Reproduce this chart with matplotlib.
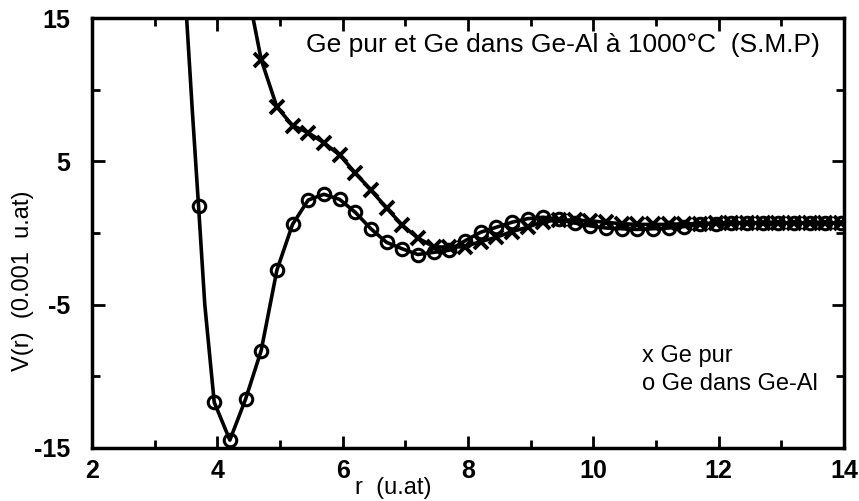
import matplotlib.pyplot as plt
from matplotlib.ticker import MultipleLocator

plt.rcParams['font.family'] = ['Liberation Sans', 'DejaVu Sans']
plt.rcParams['axes.unicode_minus'] = False

# Ge pur (croix)
r_pur = [4.7, 4.95, 5.2, 5.45, 5.7, 5.95, 6.2, 6.45, 6.7, 6.95, 7.2, 7.45,
         7.7, 7.95, 8.2, 8.45, 8.7, 8.95, 9.2, 9.45, 9.7, 9.95, 10.2, 10.45,
         10.7, 10.95, 11.2, 11.45, 11.7, 11.95, 12.2, 12.45, 12.7, 12.95,
         13.2, 13.45, 13.7, 13.95]
v_pur = [12.1, 8.8, 7.5, 7.0, 6.3, 5.45, 4.2, 3.0, 1.75, 0.55, -0.35, -0.95,
         -1.0, -0.95, -0.6, -0.3, 0.1, 0.4, 0.8, 0.9, 0.9, 0.85, 0.75, 0.65,
         0.6, 0.6, 0.6, 0.65, 0.65, 0.7, 0.7, 0.7, 0.7, 0.7,
         0.7, 0.7, 0.7, 0.7]

# Ge dans Ge-Al (cercles)
r_al = [3.7, 3.95, 4.2, 4.45, 4.7, 4.95, 5.2, 5.45, 5.7, 5.95, 6.2, 6.45,
        6.7, 6.95, 7.2, 7.45, 7.7, 7.95, 8.2, 8.45, 8.7, 8.95, 9.2, 9.45,
        9.7, 9.95, 10.2, 10.45, 10.7, 10.95, 11.2, 11.45, 11.7, 11.95, 12.2,
        12.45, 12.7, 12.95, 13.2, 13.45, 13.7, 13.95]
v_al = [1.9, -11.8, -14.45, -11.6, -8.2, -2.6, 0.6, 2.3, 2.7, 2.35, 1.45, 0.3,
        -0.65, -1.1, -1.5, -1.35, -1.2, -0.55, 0.05, 0.4, 0.75, 1.0, 1.1, 0.95,
        0.7, 0.5, 0.35, 0.3, 0.25, 0.3, 0.35, 0.45, 0.6, 0.65, 0.7,
        0.7, 0.7, 0.7, 0.7, 0.7, 0.7, 0.7]

r_line_pur = [4.57] + r_pur + [14.0]
v_line_pur = [15.0] + v_pur + [0.7]
r_line_al = [3.51, 3.6, 3.7, 3.8] + r_al[1:] + [14.0]
v_line_al = [15.0, 8.6, 1.9, -5.0] + v_al[1:] + [0.7]

fig = plt.figure(figsize=(8.59, 5.01), dpi=100)
ax = fig.add_axes([0.1071, 0.1058, 0.8754, 0.8582])

ax.plot(r_line_pur, v_line_pur, color='black', lw=2.6)
ax.plot(r_line_al, v_line_al, color='black', lw=2.6)
ax.plot(r_pur, v_pur, ls='none', marker='x', ms=10, mew=2.8, color='black')
ax.plot(r_al, v_al, ls='none', marker='o', ms=9, mew=2.2,
        mfc='none', mec='black')

ax.set_xlim(2, 14)
ax.set_ylim(-15, 15)
ax.xaxis.set_major_locator(MultipleLocator(2))
ax.xaxis.set_minor_locator(MultipleLocator(1))
ax.yaxis.set_minor_locator(MultipleLocator(5))
ax.set_yticks([-15, -5, 5, 15])
ax.tick_params(which='both', direction='in', top=True, right=True, width=2)
ax.tick_params(which='major', length=9, labelsize=18)
ax.tick_params(axis='x', which='major', pad=8)
ax.tick_params(axis='y', which='major', pad=16)
ax.tick_params(which='minor', length=6)
for s in ax.spines.values():
    s.set_linewidth(2.5)
for lab in ax.get_xticklabels() + ax.get_yticklabels():
    lab.set_fontweight('bold')

ax.text(5.42, 13.1, 'Ge pur et Ge dans Ge-Al à 1000°C  (S.M.P)',
        fontsize=19, va='center', ha='left')
ax.text(10.78, -8.6, 'x Ge pur', fontsize=17, va='center', ha='left')
ax.text(10.78, -10.55, 'o Ge dans Ge-Al', fontsize=17, va='center', ha='left')

fig.text(0.4575, 0.026, 'r  (u.at)', fontsize=17, ha='center', va='center')
fig.text(0.027, 0.44, 'V(r)  (0.001  u.at)', fontsize=17, rotation=90,
         ha='center', va='center')

fig.savefig('out.png', dpi=100)
